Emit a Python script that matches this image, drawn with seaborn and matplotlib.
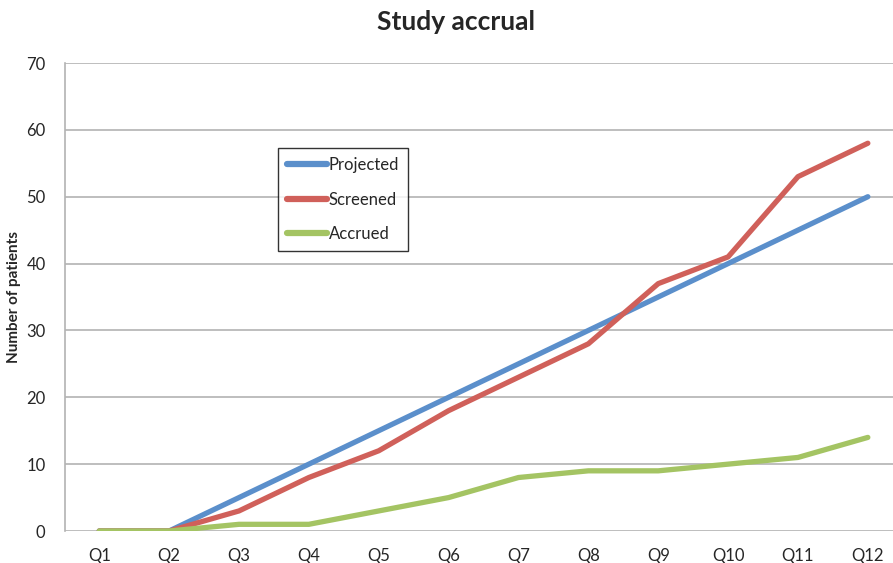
import matplotlib
matplotlib.use('Agg')

import matplotlib.pyplot as plt
import numpy as np
import pandas as pd
import seaborn as sns

# ------------------------------------------------------------
#     Data
# ------------------------------------------------------------

quarters = ["Q1", "Q2", "Q3", "Q4", "Q5", "Q6", "Q7", "Q8", "Q9", "Q10", "Q11", "Q12"]
projected = [0, 0, 5, 10, 15, 20, 25, 30, 35, 40, 45, 50]
screened  = [0, 0, 3, 8, 12, 18, 23, 28, 37, 41, 53, 58]
accrued   = [0, 0, 1, 1, 3, 5, 8, 9, 9, 10, 11, 14]
y_ticks   = [0, 10, 20, 30, 40, 50, 60, 70]

series_names = ["Projected", "Screened", "Accrued"]
palette = {"Projected": "#5B8FCB", "Screened": "#D0605A", "Accrued": "#A4C463"}

# long format for seaborn
rows = []
for name, vals in zip(series_names, [projected, screened, accrued]):
    for i, v in enumerate(vals):
        rows.append({"pos": i, "quarter": quarters[i], "series": name, "value": v})
df = pd.DataFrame(rows)

# ------------------------------------------------------------
#     Plot
# ------------------------------------------------------------

sns.set_style("white")
plt.rcParams['font.family'] = ['Lato', 'DejaVu Sans']

fig = plt.figure(figsize=(8.93, 5.63), dpi=100)
ax = fig.add_axes([65 / 893, 1 - 531 / 563, 1 - 65 / 893, (531 - 63) / 563])

sns.lineplot(data=df, x="pos", y="value", hue="series", hue_order=series_names,
             palette=palette, linewidth=3.8, sort=False, ax=ax, legend=True)

ax.set_xlim(-0.49, 11.36)
ax.set_ylim(0, 70)
ax.set_yticks(y_ticks)
ax.set_yticklabels([str(t) for t in y_ticks], fontsize=12)
ax.set_xticks(list(range(len(quarters))))
ax.set_xticklabels(quarters, fontsize=12)
ax.tick_params(axis='x', length=0, pad=12)
ax.tick_params(axis='y', length=0, pad=14)

ax.yaxis.grid(True, color="#B3B3B3", linewidth=1.2)
ax.xaxis.grid(False)
ax.set_axisbelow(True)
for side in ["top", "right", "bottom"]:
    ax.spines[side].set_visible(False)
ax.spines["left"].set_color("#B3B3B3")
ax.spines["left"].set_linewidth(1.2)

ax.set_xlabel("")
ax.set_ylabel("Number of patients", fontsize=11, fontweight="bold", labelpad=4)

fig.suptitle("Study accrual", fontsize=19, fontweight="bold", x=456 / 893, y=1 - 10 / 563, va="top")

leg = ax.legend(loc="upper left", bbox_to_anchor=(278 / 893, 1 - 148 / 563),
                bbox_transform=fig.transFigure, frameon=True, fancybox=False,
                edgecolor="black", fontsize=12, handlelength=2.4, handletextpad=0.1,
                labelspacing=1.1, borderpad=0.55, borderaxespad=0)
leg.get_frame().set_linewidth(1.0)
for line in leg.get_lines():
    line.set_linewidth(4.5)
    line.set_solid_capstyle("round")

plt.savefig("out.png", dpi=100)
